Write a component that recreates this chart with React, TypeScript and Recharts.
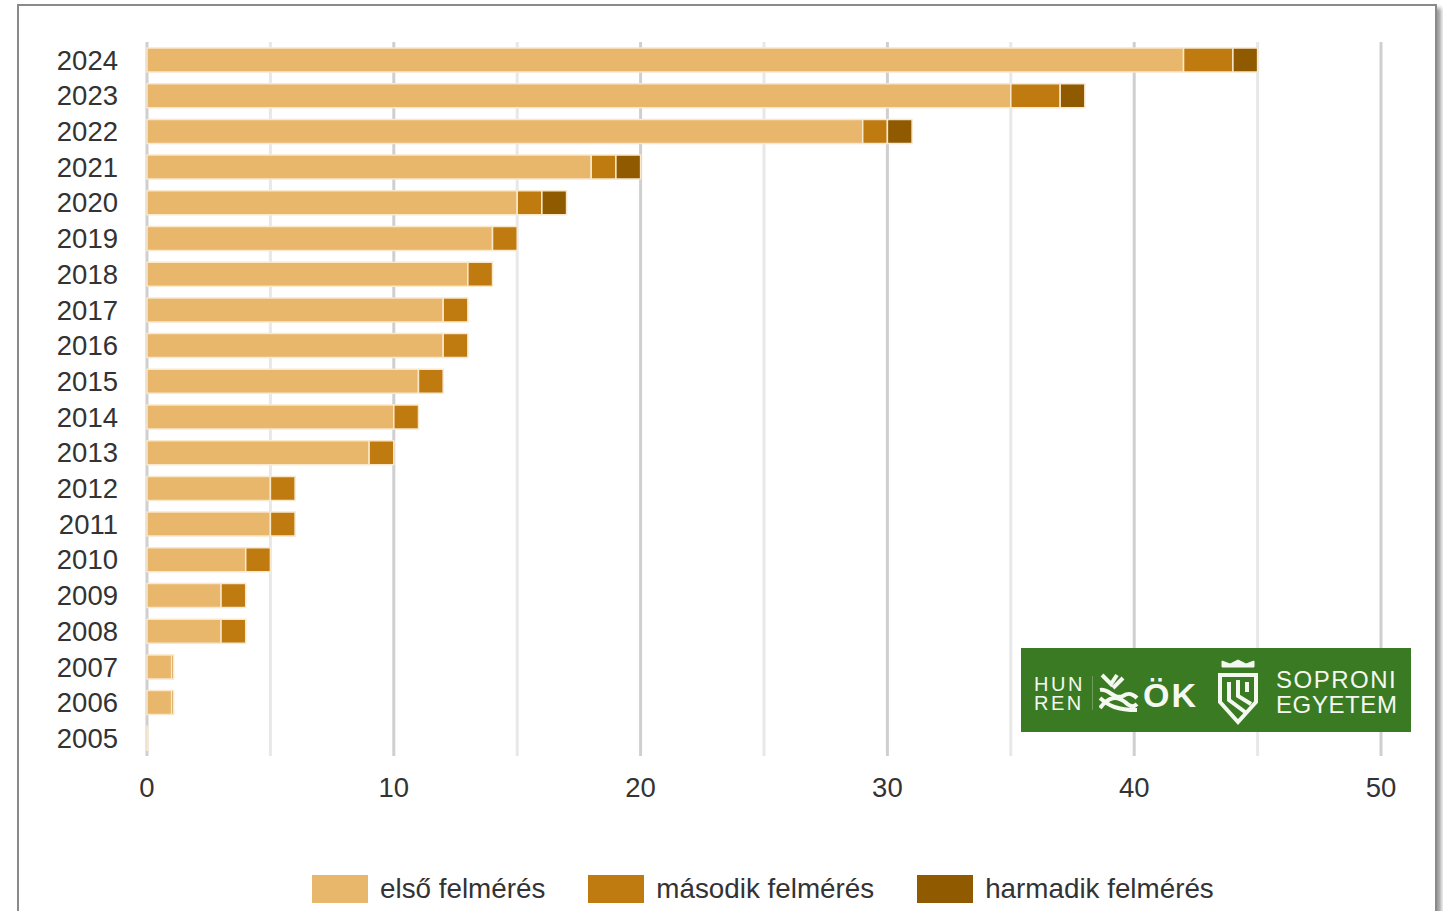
import React from 'react';
import { BarChart, Bar, XAxis, YAxis, CartesianGrid, Legend } from 'recharts';

const years = ['2024', '2023', '2022', '2021', '2020', '2019', '2018', '2017', '2016', '2015', '2014', '2013', '2012', '2011', '2010', '2009', '2008', '2007', '2006', '2005'];
const first = [42, 35, 29, 18, 15, 14, 13, 12, 12, 11, 10, 9, 5, 5, 4, 3, 3, 1, 1, 0.03];
const second = [2, 2, 1, 1, 1, 1, 1, 1, 1, 1, 1, 1, 1, 1, 1, 1, 1, 0.08, 0.08, 0];
const third = [1, 1, 1, 1, 1, 0, 0, 0, 0, 0, 0, 0, 0, 0, 0, 0, 0, 0, 0, 0];
const xTicks = [0, 10, 20, 30, 40, 50];
const minorGrid = [5, 15, 25, 35, 45];

const data = years.map((year, i) => ({
  year,
  first: first[i],
  second: second[i],
  third: third[i],
}));

const FONT = '"Liberation Sans", Arial, sans-serif';
const COLORS = ['#e8b76c', '#bf7a10', '#8f5a00'];
const WIDTH = 1443;
const HEIGHT = 911;

const renderLegend = (props: any) => (
  <div style={{ display: 'flex', alignItems: 'center', fontFamily: FONT, fontSize: 27.8, color: '#333', whiteSpace: 'nowrap' }}>
    {props.payload.map((item: any) => (
      <div key={item.value} style={{ display: 'flex', alignItems: 'center', marginRight: 43 }}>
        <span style={{ width: 56, height: 28, background: item.color, marginRight: 12, display: 'block' }} />
        <span>{item.value}</span>
      </div>
    ))}
  </div>
);

const Logo = () => (
  <div style={{ position: 'absolute', left: 1021, top: 648, width: 390, height: 84, background: '#3a7a22', color: '#f4f8f0', fontFamily: FONT }}>
    <div style={{ position: 'absolute', left: 13, top: 27, fontSize: 20, lineHeight: '19px', letterSpacing: 2.5 }}>
      HUN<br />REN
    </div>
    <div style={{ position: 'absolute', left: 71, top: 28, width: 1, height: 34, background: '#6f9d5c' }} />
    <svg style={{ position: 'absolute', left: 78, top: 24 }} width="40" height="42" fill="none" stroke="#f4f8f0" strokeWidth="4">
      <path d="M3 3 L12 12 L18 3 M14 16 L24 6" />
      <path d="M1 18 C10 16 14 28 24 24 C30 20 34 22 38 26" />
      <path d="M1 36 C10 24 18 24 26 30 C30 34 34 36 38 32" />
      <path d="M1 26 C10 34 18 38 38 38" />
    </svg>
    <div style={{ position: 'absolute', left: 122, top: 29, fontSize: 34, fontWeight: 700, lineHeight: '36px', letterSpacing: 2 }}>ÖK</div>
    <svg style={{ position: 'absolute', left: 194, top: 10 }} width="46" height="68" fill="none" stroke="#f4f8f0" strokeWidth="4">
      <path d="M7 3 L7 9 L39 9 L39 3 L31 6 L23 2 L15 6 Z" fill="#f4f8f0" strokeWidth="1" />
      <path d="M5 17 L41 17 L41 44 L23 64 L5 44 Z" />
      <path d="M14 24 L14 42 L30 54 M23 22 L23 38 L36 46 M32 24 L32 34" />
    </svg>
    <div style={{ position: 'absolute', left: 255, top: 19, fontSize: 24, lineHeight: '25px', whiteSpace: 'nowrap' }}>
      <div style={{ letterSpacing: 1.5 }}>SOPRONI</div>
      <div style={{ letterSpacing: 0.6 }}>EGYETEM</div>
    </div>
  </div>
);

export default function App() {
  return (
    <div style={{ position: 'absolute', left: 0, top: 0, width: WIDTH, height: HEIGHT, overflow: 'hidden', background: '#fff' }}>
      <div style={{ position: 'absolute', left: 17, top: 4, width: 1416, height: 1000, border: '2px solid #8a8a8a', boxShadow: '4px 4px 4px rgba(0,0,0,0.4)', background: '#fff' }} />
      <div style={{ position: 'absolute', left: 0, top: 0 }}>
        <BarChart
          width={WIDTH}
          height={HEIGHT}
          data={data}
          layout="vertical"
          margin={{ top: 42, right: 62, bottom: 63, left: 0 }}
          barSize={24}
          style={{ background: 'transparent' }}
        >
          <CartesianGrid horizontal={false} verticalValues={minorGrid} stroke="#e8e8e8" strokeWidth={3} />
          <CartesianGrid horizontal={false} verticalValues={xTicks} stroke="#cfcfcf" strokeWidth={3} />
          <XAxis
            type="number"
            domain={[0, 50]}
            ticks={xTicks}
            axisLine={false}
            tickLine={false}
            tickSize={0}
            tickMargin={21}
            height={60}
            tick={{ fontFamily: FONT, fontSize: 27.5, fill: '#333' }}
          />
          <YAxis
            type="category"
            dataKey="year"
            interval={0}
            axisLine={false}
            tickLine={false}
            tickSize={0}
            tickMargin={29}
            width={147}
            tick={{ fontFamily: FONT, fontSize: 27.5, fill: '#333' }}
          />
          <Legend
            content={renderLegend}
            itemSorter="dataKey"
            wrapperStyle={{ left: 312, top: 873, width: 1000, height: 32 }}
          />
          <Bar dataKey="first" name="első felmérés" stackId="a" fill={COLORS[0]} stroke="#f8e8cc" strokeWidth={1.5} isAnimationActive={false} />
          <Bar dataKey="second" name="második felmérés" stackId="a" fill={COLORS[1]} stroke="#f8e8cc" strokeWidth={1.5} isAnimationActive={false} />
          <Bar dataKey="third" name="harmadik felmérés" stackId="a" fill={COLORS[2]} stroke="#f8e8cc" strokeWidth={1.5} isAnimationActive={false} />
        </BarChart>
      </div>
      <Logo />
    </div>
  );
}
